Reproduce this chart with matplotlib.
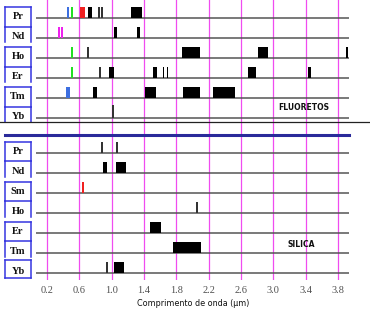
import matplotlib
matplotlib.use("Agg")
import matplotlib.pyplot as plt
from matplotlib.transforms import blended_transform_factory
from matplotlib.lines import Line2D

# ---------------- data ----------------
ticks = [0.2, 0.6, 1.0, 1.4, 1.8, 2.2, 2.6, 3.0, 3.4, 3.8]
tick_labels = ["0.2", "0.6", "1.0", "1.4", "1.8", "2.2", "2.6", "3.0", "3.4", "3.8"]

fluor_ions = ["Pr", "Nd", "Ho", "Er", "Tm", "Yb"]
silica_ions = ["Pr", "Nd", "Sm", "Ho", "Er", "Tm", "Yb"]

BLUE = "#3d6fe0"
GREEN = "#22e022"
RED = "#f02020"
MAG = "#ee22ee"
BLK = "#000000"
GRY = "#333333"

# emission bands (start µm, end µm, colour); a start equal to end is a thin line
fluor_pr = [(0.46, 0.46, BLUE), (0.51, 0.51, GREEN), (0.61, 0.67, RED), (0.71, 0.76, BLK),
            (0.83, 0.85, GRY), (0.87, 0.89, GRY), (1.24, 1.38, BLK)]
fluor_nd = [(0.35, 0.35, MAG), (0.39, 0.39, MAG), (1.03, 1.07, BLK), (1.31, 1.35, BLK)]
fluor_ho = [(0.51, 0.51, GREEN), (0.71, 0.71, GRY), (1.87, 2.09, BLK), (2.81, 2.94, BLK),
            (3.91, 3.91, BLK)]
fluor_er = [(0.51, 0.51, GREEN), (0.86, 0.86, GRY), (0.97, 1.03, BLK), (1.51, 1.56, BLK),
            (1.64, 1.64, BLK), (1.69, 1.69, BLK), (2.69, 2.79, BLK), (3.43, 3.47, BLK)]
fluor_tm = [(0.44, 0.48, BLUE), (0.77, 0.82, BLK), (1.41, 1.55, BLK), (1.88, 2.09, BLK),
            (2.25, 2.53, BLK)]
fluor_yb = [(1.02, 1.02, GRY)]

silica_pr = [(0.88, 0.88, GRY), (1.07, 1.07, GRY)]
silica_nd = [(0.89, 0.94, BLK), (1.05, 1.18, BLK)]
silica_sm = [(0.65, 0.65, RED)]
silica_ho = [(2.06, 2.06, GRY)]
silica_er = [(1.47, 1.61, BLK)]
silica_tm = [(1.76, 2.11, BLK)]
silica_yb = [(0.94, 0.94, GRY), (1.03, 1.15, BLK)]

fluor_bands = [fluor_pr, fluor_nd, fluor_ho, fluor_er, fluor_tm, fluor_yb]
silica_bands = [silica_pr, silica_nd, silica_sm, silica_ho, silica_er, silica_tm, silica_yb]

# ---------------- figure ----------------
W, H = 370, 313
fig = plt.figure(figsize=(W / 100, H / 100), dpi=100)
fig.patch.set_facecolor("white")
ax = fig.add_axes([36 / W, (H - 280) / H, 313 / W, 280 / H])
ax.set_xlim(0.064, 3.936)
ax.set_ylim(13.1, -0.9)
for s in ax.spines.values():
    s.set_visible(False)

fluor_rows = list(range(len(fluor_ions)))
silica_rows = [6.75 + i for i in range(len(silica_ions))]

for t in ticks:
    ax.axvline(t, color="#f04cf0", lw=0.9, zorder=1)

for r in fluor_rows + silica_rows:
    ax.axhline(r, color="#555555", lw=1.1, zorder=2)

bar_h = 0.57
thin_w = 0.022
for rows, bands in ((fluor_rows, fluor_bands), (silica_rows, silica_bands)):
    for r, lst in zip(rows, bands):
        for (a, b, c) in lst:
            w = (b - a) if b > a else thin_w
            x0 = a if b > a else a - thin_w / 2
            hh = bar_h + (0.1 if (c == GRY and lst is fluor_yb) else 0)
            ax.bar(x0, hh, width=w, bottom=r - hh, align="edge", color=c,
                   edgecolor="none", zorder=3)

# separators
ax.axhline(5.2, xmin=-36 / 313, xmax=(W - 36) / 313, color="#222222", lw=0.9,
           clip_on=False, zorder=4)
ax.axhline(5.85, xmin=-31 / 313, xmax=1.0, color="#2a2a9a", lw=2.2,
           clip_on=False, zorder=4)

# ticks
ax.set_xticks(ticks)
ax.set_xticklabels(tick_labels, family="Liberation Serif", fontsize=7.5, color="#505050")
ax.tick_params(axis="x", length=0, pad=4)
ax.set_yticks([])

fig.text(193 / W, 1 - 303 / H, "Comprimento de onda (\u00b5m)", ha="center", va="center",
         fontsize=5.8, family="DejaVu Sans", color="#111111")

ax.text(3.38, 4.45, "FLUORETOS", ha="center", va="center", fontsize=5.5,
        fontweight="bold", family="DejaVu Sans", color="#111111")
ax.text(3.35, 11.3, "SILICA", ha="center", va="center", fontsize=5.5,
        fontweight="bold", family="DejaVu Sans", color="#111111")

# label boxes
tr = blended_transform_factory(ax.transAxes, ax.transData)
xl, xr = (5 - 36) / 313, (31 - 36) / 313
BOXC = "#3535e0"


def box(top, bottom, closed_top=True, closed_bottom=True):
    if closed_top:
        ax.add_line(Line2D([xl, xr], [top, top], transform=tr, color=BOXC, lw=1.1, clip_on=False))
    if closed_bottom:
        ax.add_line(Line2D([xl, xr], [bottom, bottom], transform=tr, color=BOXC, lw=1.1, clip_on=False))
    ax.add_line(Line2D([xl, xl], [top, bottom], transform=tr, color=BOXC, lw=1.1, clip_on=False))
    ax.add_line(Line2D([xr, xr], [top, bottom], transform=tr, color=BOXC, lw=1.1, clip_on=False))


def label(row, txt):
    ax.text((xl + xr) / 2, row - 0.08, txt, transform=tr, ha="center", va="center",
            fontsize=7.5, fontweight="bold", family="Liberation Serif", color="#111111",
            clip_on=False)


# fluoretos: pairs
for i in range(0, 6, 2):
    r1, r2 = fluor_rows[i], fluor_rows[i + 1]
    box(r1 - 0.55, r1 + 0.45)
    box(r1 + 0.45, r2 + 0.2, closed_top=False, closed_bottom=False)
for r, t in zip(fluor_rows, fluor_ions):
    label(r, t)

# silica: pairs and last single
for i in range(0, 6, 2):
    r1, r2 = silica_rows[i], silica_rows[i + 1]
    box(r1 - 0.55, r1 + 0.4)
    box(r1 + 0.4, r2 + 0.2, closed_top=False, closed_bottom=False)
box(silica_rows[6] - 0.65, silica_rows[6] + 0.25)
for r, t in zip(silica_rows, silica_ions):
    label(r, t)

fig.savefig("out.png", dpi=100, facecolor="white")
